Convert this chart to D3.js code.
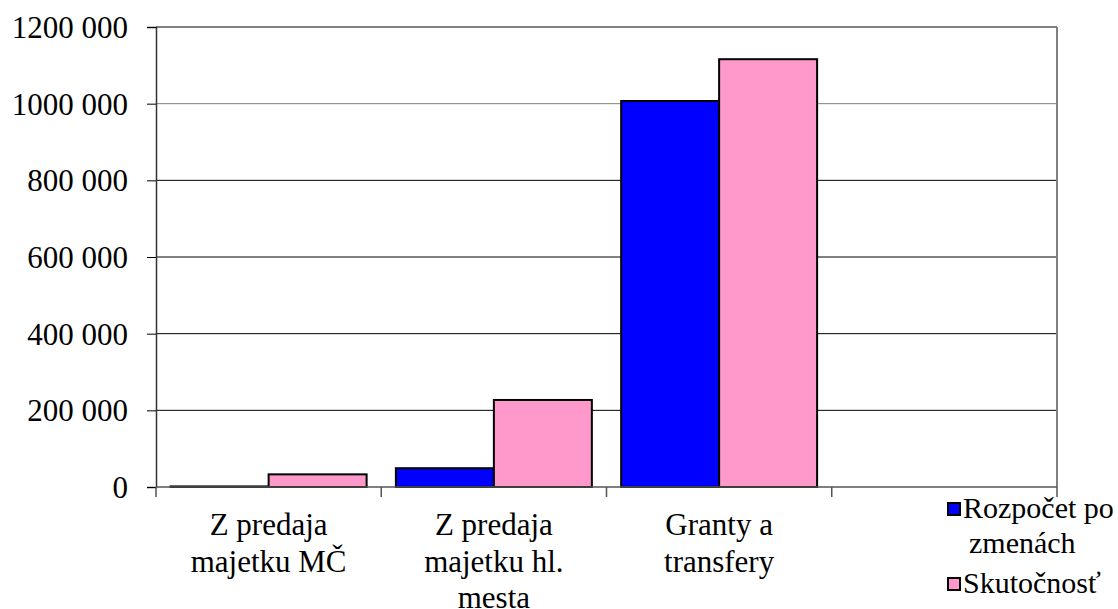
<!DOCTYPE html>
<html>
<head>
<meta charset="utf-8">
<script src="https://cdn.jsdelivr.net/npm/d3@7"></script>
</head>
<body style="margin:0">
<script>
"use strict";

// data
const categories = ["Z predaja majetku MČ", "Z predaja majetku hl. mesta", "Granty a transfery", ""];
const categoryLines = [["Z predaja", "majetku MČ"], ["Z predaja", "majetku hl.", "mesta"], ["Granty a", "transfery"], []];
const rozpocet = [1500, 49000, 1007000, null];
const skutocnost = [33000, 227000, 1116000, null];
const seriesNames = [["Rozpočet po", "zmenách"], ["Skutočnosť"]];
const seriesColors = ["#0000ff", "#ff99cc"];
const yTicks = [0, 200000, 400000, 600000, 800000, 1000000, 1200000];

const fontName = ["Liberation", "Serif"].join(" ");
const FONT = "'" + fontName + "'";

function main() {
    const W = 1118, H = 609;
    let margin = {top: 27, right: 61, bottom: 122, left: 156},
        width = W - margin.left - margin.right,
        height = H - margin.top - margin.bottom;

    let root = d3.select("body").append("svg")
        .attr("width", W)
        .attr("height", H);
    let svg = root.append("g")
        .attr("transform", "translate(" + margin.left + "," + margin.top + ")");

    let x0 = d3.scaleBand()
        .domain(categories.map((d, i) => i))
        .range([0, width])
        .paddingInner(0.13)
        .paddingOuter(0.065);
    let step = x0.step();
    let x1 = d3.scaleBand()
        .domain([0, 1])
        .range([0, x0.bandwidth()]);
    let y = d3.scaleLinear()
        .domain([0, 1200000])
        .range([height, 0]);

    let fmt = d => d === 0 ? "0" : Math.floor(d / 1000) + " " + String(d % 1000).padStart(3, "0");

    // gridlines
    svg.selectAll(".grid").data(yTicks.filter(d => d > 0))
        .enter().append("line")
        .attr("x1", 0).attr("x2", width)
        .attr("y1", d => y(d)).attr("y2", d => y(d))
        .attr("stroke", d => d >= 1000000 ? "#808080" : "#000")
        .attr("stroke-width", d => d === 1200000 ? 2 : 1);

    // right border
    svg.append("line")
        .attr("x1", width).attr("x2", width)
        .attr("y1", 0).attr("y2", height)
        .attr("stroke", "#808080").attr("stroke-width", 2);

    // bars
    let series = [rozpocet, skutocnost];
    series.forEach((vals, s) => {
        svg.selectAll(".bar" + s)
            .data(vals.map((v, i) => ({v: v, i: i})).filter(d => d.v != null))
            .enter().append("rect")
            .attr("x", d => x0(d.i) + x1(s))
            .attr("y", d => y(d.v))
            .attr("width", x1.bandwidth())
            .attr("height", d => height - y(d.v))
            .attr("fill", seriesColors[s])
            .attr("stroke", "#000")
            .attr("stroke-width", 2);
    });

    // y axis
    let yAxis = svg.append("g")
        .call(d3.axisLeft(y).tickValues(yTicks).tickFormat(fmt).tickSize(9).tickPadding(19));
    yAxis.attr("font-family", null).attr("font-size", null);
    yAxis.select(".domain").attr("stroke", "#333").attr("stroke-width", 1.5);
    yAxis.selectAll(".tick line").attr("stroke", "#000");
    yAxis.selectAll("text")
        .style("font-family", FONT)
        .style("font-size", "31px")
        .attr("fill", "#000")
        .attr("dy", "0.34em");

    // x axis with ticks on category boundaries
    let bounds = d3.range(categories.length + 1).map(i => i * step);
    svg.append("line")
        .attr("x1", 0).attr("x2", width)
        .attr("y1", height).attr("y2", height)
        .attr("stroke", "#555").attr("stroke-width", 1.5);
    svg.selectAll(".xtick").data(bounds)
        .enter().append("line")
        .attr("x1", d => d).attr("x2", d => d)
        .attr("y1", height).attr("y2", height + 10)
        .attr("stroke", "#555").attr("stroke-width", 1.5);

    categoryLines.forEach((lines, i) => {
        lines.forEach((ln, k) => {
            svg.append("text")
                .attr("text-anchor", "middle")
                .attr("x", x0(i) + x0.bandwidth() / 2)
                .attr("y", height + 48 + k * 36.5)
                .style("font-family", FONT)
                .style("font-size", "31px")
                .text(ln);
        });
    });

    // legend
    let leg = root.append("g").attr("transform", "translate(948,503)");
    let offsets = [0, 75];
    seriesNames.forEach((lines, s) => {
        let g = leg.append("g").attr("transform", "translate(0," + offsets[s] + ")");
        g.append("rect")
            .attr("width", 12).attr("height", 12)
            .attr("fill", seriesColors[s])
            .attr("stroke", "#000").attr("stroke-width", 2);
        lines.forEach((ln, k) => {
            g.append("text")
                .attr("x", k === 0 ? 15 : 21)
                .attr("y", 15 + k * 35)
                .style("font-family", FONT)
                .style("font-size", "30px")
                .text(ln);
        });
    });
}

main();
</script>
</body>
</html>
